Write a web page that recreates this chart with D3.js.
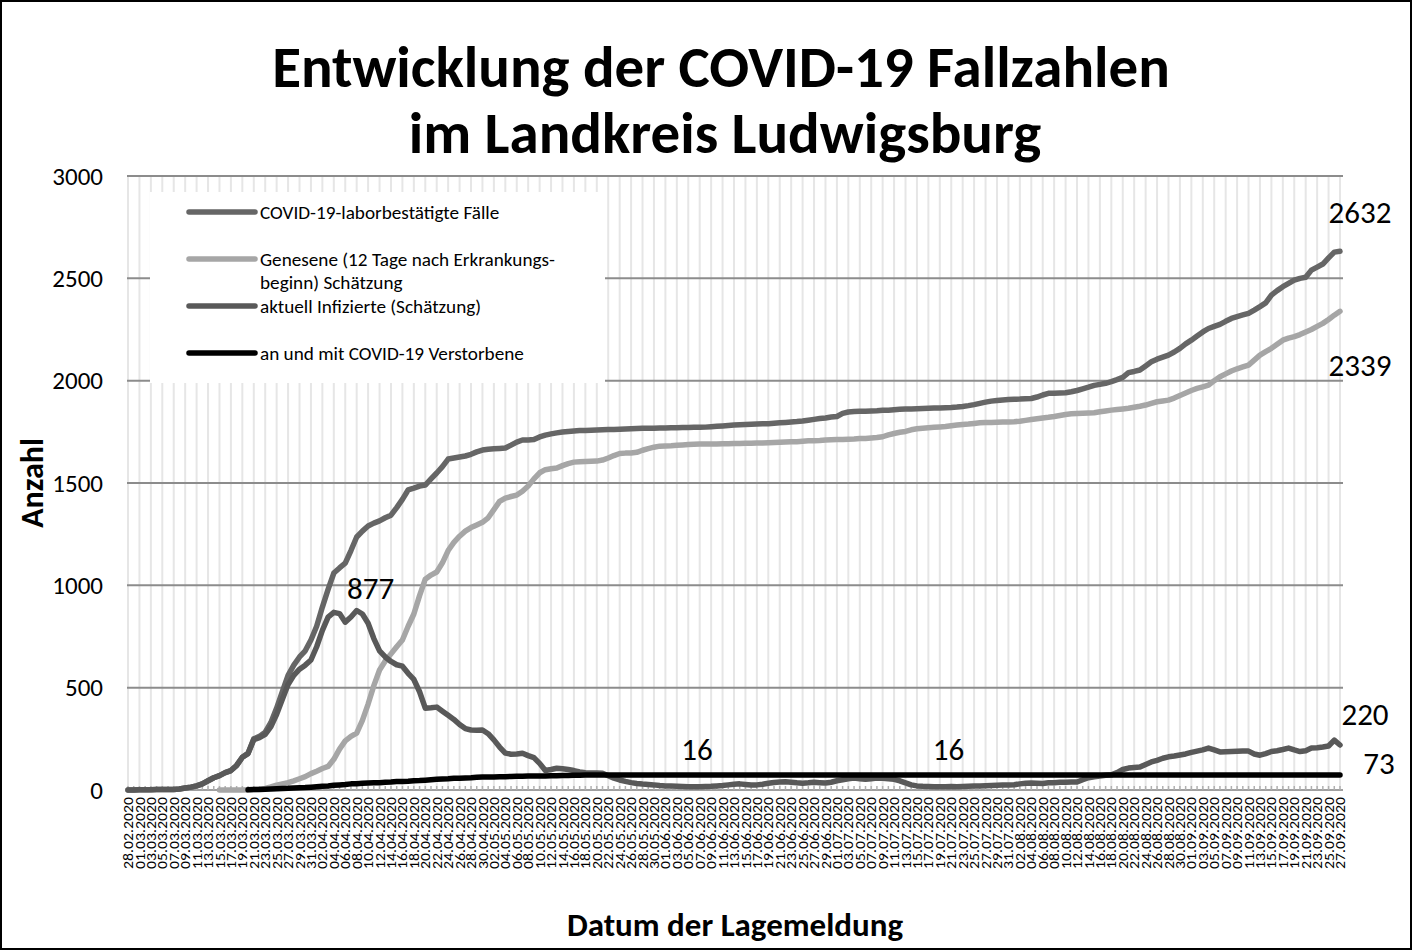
<!DOCTYPE html>
<html>
<head>
<meta charset="utf-8">
<script src="https://cdn.jsdelivr.net/npm/d3@7/dist/d3.min.js"></script>
<style>
body { margin: 0; background: #fff; }
text { font-family: Carlito, Calibri, Lato, sans-serif; fill: #000; }
</style>
</head>
<body>
<svg id="chart" width="1412" height="950"></svg>
<script>
// Kategorien: ein Wert pro Lagemeldung (28.02.2020 - 27.09.2020)
var dates = d3.timeDay.range(new Date(2020, 1, 28), new Date(2020, 8, 28));
var dateLabels = dates.map(d3.timeFormat("%d.%m.%Y"));

var yTicks = [0, 500, 1000, 1500, 2000, 2500, 3000];

var faelle = [
	0,0,1,1,1,2,2,3,3,5,
	10,14,20,30,45,60,70,85,95,120,
	160,180,250,262,283,330,400,480,560,610,
	650,680,733,800,894,980,1060,1085,1108,1170,
	1236,1265,1290,1304,1315,1330,1343,1380,1420,1466,
	1475,1485,1490,1520,1549,1580,1617,1622,1627,1632,
	1640,1652,1661,1665,1667,1669,1671,1685,1700,1710,
	1710,1712,1725,1734,1740,1745,1749,1752,1754,1756,
	1757,1758,1759,1760,1761,1762,1763,1764,1765,1766,
	1767,1768,1768,1769,1769,1770,1770,1771,1771,1772,
	1772,1773,1775,1777,1779,1781,1783,1785,1786,1787,
	1788,1789,1790,1792,1794,1796,1798,1800,1803,1807,
	1811,1815,1818,1822,1825,1840,1847,1849,1850,1851,
	1852,1853,1855,1856,1858,1860,1861,1862,1863,1864,
	1865,1866,1867,1868,1869,1871,1874,1878,1883,1889,
	1895,1900,1903,1906,1908,1909,1910,1912,1913,1920,
	1930,1938,1939,1940,1941,1946,1952,1960,1968,1977,
	1982,1987,1995,2005,2016,2039,2045,2052,2072,2092,
	2105,2115,2125,2140,2158,2180,2198,2218,2238,2255,
	2265,2275,2290,2304,2313,2321,2329,2345,2362,2380,
	2418,2440,2459,2475,2491,2500,2505,2540,2555,2570,
	2600,2628,2632
];

var genesene = [
	null,null,null,null,null,null,null,null,null,null,
	null,null,null,null,null,null,0,0,0,0,
	0,1,2,4,8,15,24,30,36,45,
	55,65,80,92,105,115,150,200,240,262,
	278,340,420,510,586,630,665,700,733,800,
	860,950,1030,1050,1065,1110,1170,1210,1240,1265,
	1282,1295,1308,1330,1370,1410,1426,1434,1441,1460,
	1485,1520,1550,1565,1570,1573,1585,1595,1602,1604,
	1605,1606,1607,1612,1622,1634,1644,1646,1647,1650,
	1660,1668,1675,1680,1681,1682,1684,1686,1688,1689,
	1690,1690,1691,1691,1692,1692,1693,1693,1694,1694,
	1695,1696,1697,1698,1699,1700,1701,1702,1704,1706,
	1707,1708,1710,1711,1712,1713,1714,1715,1717,1718,
	1720,1722,1726,1735,1742,1748,1752,1760,1765,1768,
	1770,1772,1774,1776,1780,1783,1786,1788,1791,1794,
	1795,1796,1797,1798,1798,1799,1802,1806,1810,1814,
	1818,1821,1825,1830,1835,1838,1840,1841,1842,1843,
	1848,1852,1856,1859,1862,1865,1870,1875,1881,1889,
	1897,1901,1905,1915,1928,1940,1952,1962,1970,1978,
	2000,2019,2033,2047,2058,2067,2076,2100,2125,2142,
	2158,2178,2198,2208,2215,2225,2238,2250,2265,2280,
	2299,2320,2339
];

var infizierte = [
	0,0,1,1,1,2,2,3,3,5,
	10,14,20,30,45,60,70,85,95,120,
	160,178,246,256,272,310,370,443,515,560,
	590,610,635,700,780,845,868,862,820,845,
	877,860,815,740,680,650,628,612,605,570,
	540,480,400,402,405,385,365,345,320,300,
	293,292,293,275,245,210,180,175,176,180,
	168,158,130,95,100,106,104,100,95,88,
	84,83,83,82,70,58,49,42,36,32,
	29,27,25,22,20,19,18,17,16,16,
	16,17,18,20,22,25,28,30,27,24,
	25,28,33,37,39,40,38,35,33,35,
	38,36,34,38,45,50,55,58,55,52,
	55,58,57,55,52,45,35,25,20,18,
	17,16,16,16,17,16,17,18,19,20,
	21,22,23,24,24,26,30,33,34,33,
	32,35,36,38,38,39,39,50,60,65,
	68,72,74,85,100,107,110,112,125,137,
	145,155,162,166,171,176,184,190,196,205,
	196,186,187,188,189,190,190,176,170,178,
	188,192,198,205,196,188,192,205,206,210,
	215,244,220
];

var verstorbene = [
	null,null,null,null,null,null,null,null,null,null,
	null,null,null,null,null,null,null,null,null,null,
	null,1,2,3,4,5,6,7,8,10,
	11,12,14,16,18,20,23,25,27,30,
	31,33,34,35,36,38,39,41,42,43,
	45,46,48,50,52,54,55,57,58,59,
	60,62,63,64,64,65,65,66,67,67,
	68,68,69,69,70,70,71,71,72,72,
	73,73,73,73,73,73,73,73,73,73,
	73,73,73,73,73,73,73,73,73,73,
	73,73,73,73,73,73,73,73,73,73,
	73,73,73,73,73,73,73,73,73,73,
	73,73,73,73,73,73,73,73,73,73,
	73,73,73,73,73,73,73,73,73,73,
	73,73,73,73,73,73,73,73,73,73,
	73,73,73,73,73,73,73,73,73,73,
	73,73,73,73,73,73,73,73,73,73,
	73,73,73,73,73,73,73,73,73,73,
	73,73,73,73,73,73,73,73,73,73,
	73,73,73,73,73,73,73,73,73,73,
	73,73,73,73,73,73,73,73,73,73,
	73,73,73
];

var seriesNames = [
	"COVID-19-laborbestätigte Fälle",
	"Genesene (12 Tage nach Erkrankungs-|beginn) Schätzung",
	"aktuell  Infizierte (Schätzung)",
	"an und mit COVID-19 Verstorbene"
];

// Datenbeschriftungen: Reihe, Tag
var labelPoints = [
	{s: 2, i: 40, dx: 14, dy: -22},
	{s: 2, i: 99, dx: 3, dy: -38},
	{s: 2, i: 143, dx: 3, dy: -38},
	{s: 0, i: 212, dx: 20, dy: -39},
	{s: 1, i: 212, dx: 20, dy: 54},
	{s: 2, i: 212, dx: 25, dy: -31},
	{s: 3, i: 212, dx: 39, dy: -12}
];

var colors = ["#666666", "#a6a6a6", "#595959", "#000000"];
var series = [faelle, genesene, infizierte, verstorbene];

var svg = d3.select("#chart");
var W = 1412, H = 950;
var plotLeft = 128, plotRight = 1340, plotTop = 176, plotBottom = 790;

var x = d3.scaleLinear().domain([0, dates.length - 1]).range([plotLeft, plotRight]);
var y = d3.scaleLinear().domain([0, 3000]).range([plotBottom, plotTop]);

svg.append("rect")
	.attr("width", W).attr("height", H)
	.attr("fill", "#fff");

//Vertical grid lines, one per label
var labelIdx = d3.range(0, dates.length, 2);
svg.append("g")
	.selectAll("line")
	.data(labelIdx)
	.enter().append("line")
		.attr("x1", function(d) {return x(d);})
		.attr("x2", function(d) {return x(d);})
		.attr("y1", plotTop)
		.attr("y2", plotBottom)
		.attr("stroke", "#e6e6e6")
		.attr("stroke-width", 2)
;

//Horizontal grid lines
svg.append("g")
	.selectAll("line")
	.data(yTicks)
	.enter().append("line")
		.attr("x1", plotLeft - 1)
		.attr("x2", plotRight + 3)
		.attr("y1", function(d) {return y(d);})
		.attr("y2", function(d) {return y(d);})
		.attr("stroke", function(d) {return d == 0 ? "#a0a0a0" : "#8c8c8c";})
		.attr("stroke-width", 2)
;

//small ticks along the category axis
svg.append("g")
	.selectAll("line")
	.data(d3.range(dates.length))
	.enter().append("line")
		.attr("x1", function(d) {return x(d);})
		.attr("x2", function(d) {return x(d);})
		.attr("y1", plotBottom - 4)
		.attr("y2", plotBottom)
		.attr("stroke", "#b0b0b0")
		.attr("stroke-width", 1.5)
;

//y tick labels
svg.append("g")
	.selectAll("text")
	.data(yTicks)
	.enter().append("text")
		.attr("x", 103)
		.attr("y", function(d) {return y(d);})
		.attr("dy", "0.35em")
		.style("text-anchor", "end")
		.style("font-size", "25px")
		.text(function(d) {return d;})
;

//x tick labels
svg.append("g")
	.selectAll("text")
	.data(labelIdx)
	.enter().append("text")
		.attr("transform", function(d) {return "translate(" + x(d) + ",797) rotate(-90)";})
		.attr("dy", "0.35em")
		.attr("textLength", 72)
		.attr("lengthAdjust", "spacingAndGlyphs")
		.style("text-anchor", "end")
		.style("font-size", "14.5px")
		.text(function(d) {return dateLabels[d];})
;

//legend box
svg.append("rect")
	.attr("x", 150).attr("y", 192)
	.attr("width", 455).attr("height", 191)
	.attr("fill", "#fff")
;

var legendY = [212, 259, 306, 353];
var legend = svg.append("g").selectAll("g")
	.data(seriesNames)
	.enter().append("g")
		.attr("transform", function(d, i) {return "translate(0," + legendY[i] + ")";})
;
legend.append("line")
	.attr("x1", 189).attr("x2", 255)
	.attr("stroke", function(d, i) {return colors[i];})
	.attr("stroke-width", 5.5)
	.attr("stroke-linecap", "round")
;
legend.append("text")
	.attr("x", 260)
	.style("font-size", "19.2px")
	.selectAll("tspan")
	.data(function(d) {return d.split("|");})
	.enter().append("tspan")
		.attr("x", 260)
		.attr("dy", function(d, i) {return i == 0 ? "0.35em" : "1.2em";})
		.text(function(d) {return d;})
;

//lines
var line = d3.line()
	.defined(function(d) {return d != null;})
	.x(function(d, i) {return x(i);})
	.y(function(d) {return y(d);})
;
svg.append("g")
	.selectAll("path")
	.data(series)
	.enter().append("path")
		.attr("d", line)
		.attr("fill", "none")
		.attr("stroke", function(d, i) {return colors[i];})
		.attr("stroke-width", 5.5)
		.attr("stroke-linejoin", "round")
		.attr("stroke-linecap", "round")
;

//data labels
svg.append("g")
	.selectAll("text")
	.data(labelPoints)
	.enter().append("text")
		.attr("x", function(d) {return x(d.i) + d.dx;})
		.attr("y", function(d) {return y(series[d.s][d.i]) + d.dy;})
		.attr("dy", "0.35em")
		.style("text-anchor", "middle")
		.style("font-size", "31px")
		.text(function(d) {return series[d.s][d.i];})
;

//titles
var title = svg.append("g")
	.style("font-weight", "bold")
	.style("text-anchor", "middle")
;
var t1 = title.append("text").attr("x", 721).attr("y", 87).style("font-size", "52px")
	.text("Entwicklung der COVID-19 Fallzahlen");
var t2 = title.append("text").attr("x", 725).attr("y", 153).style("font-size", "52px")
	.text("im Landkreis Ludwigsburg");
var fit = 898 / t1.node().getComputedTextLength();
t1.style("font-size", (52 * fit) + "px");
t2.style("font-size", (52 * fit) + "px");

svg.append("text")
	.attr("x", 735).attr("y", 936)
	.style("font-weight", "bold")
	.style("font-size", "33px")
	.style("text-anchor", "middle")
	.text("Datum der Lagemeldung")
;
svg.append("text")
	.attr("transform", "translate(43,483) rotate(-90)")
	.style("font-weight", "bold")
	.style("font-size", "32px")
	.style("text-anchor", "middle")
	.text("Anzahl")
;

//frame
svg.append("rect")
	.attr("x", 1).attr("y", 1)
	.attr("width", W - 2).attr("height", H - 2)
	.attr("fill", "none")
	.attr("stroke", "#000")
	.attr("stroke-width", 2)
;
</script>
</body>
</html>
